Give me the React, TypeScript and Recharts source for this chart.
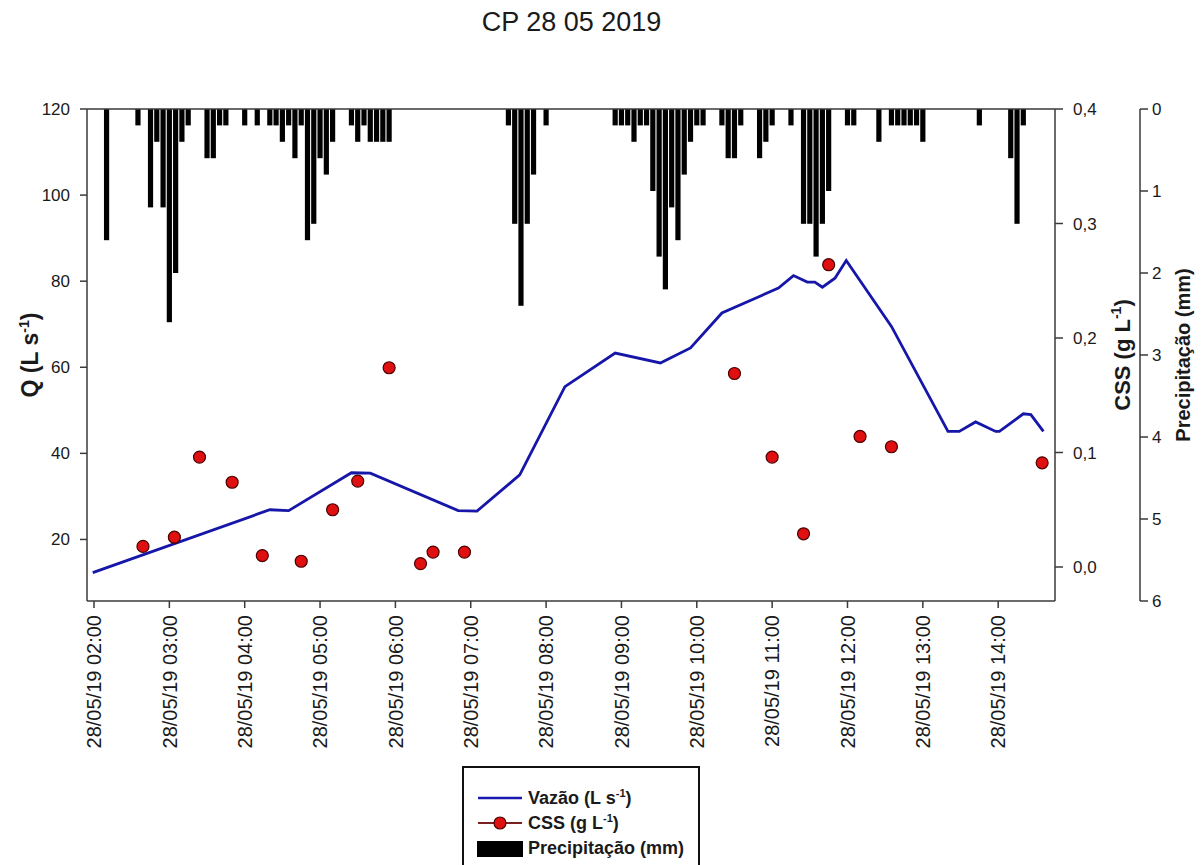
import React from "react";
import { ComposedChart, Bar, Line, Scatter, XAxis, YAxis, ReferenceLine } from "recharts";

const FONT = '"Liberation Sans", Arial, Helvetica, sans-serif';
const AXIS_COLOR = "#3a3a3a";
const TEXT_COLOR = "#1a1a1a";

const chartTitle = "CP 28 05 2019";
const dateLabel = "28/05/19";
const hourTicks = [2, 3, 4, 5, 6, 7, 8, 9, 10, 11, 12, 13, 14];
const qTicks = [20, 40, 60, 80, 100, 120];
const cssTicks = [0, 0.1, 0.2, 0.3, 0.4];
const rainTicks = [0, 1, 2, 3, 4, 5, 6];

// precipitação, intervalos de 5 min
const rainTimes = [
  "02:10", "02:35", "02:45", "02:50", "02:55", "03:00", "03:05", "03:10", "03:15", "03:30",
  "03:35", "03:40", "03:45", "04:00", "04:10", "04:20", "04:25", "04:30", "04:35", "04:40",
  "04:45", "04:50", "04:55", "05:00", "05:05", "05:10", "05:25", "05:30", "05:35", "05:40",
  "05:45", "05:50", "05:55", "07:30", "07:35", "07:40", "07:45", "07:50", "08:00", "08:55",
  "09:00", "09:05", "09:10", "09:15", "09:20", "09:25", "09:30", "09:35", "09:40", "09:45",
  "09:50", "09:55", "10:00", "10:05", "10:20", "10:25", "10:30", "10:35", "10:50", "10:55",
  "11:00", "11:15", "11:25", "11:30", "11:35", "11:40", "11:45", "12:00", "12:05", "12:25",
  "12:35", "12:40", "12:45", "12:50", "12:55", "13:00", "13:45", "14:10", "14:15", "14:20",
];
const rainMm = [
  1.6, 0.2, 1.2, 0.4, 1.2, 2.6, 2.0, 0.4, 0.2, 0.6,
  0.6, 0.2, 0.2, 0.2, 0.2, 0.2, 0.2, 0.4, 0.2, 0.6,
  0.2, 1.6, 1.4, 0.6, 0.8, 0.4, 0.2, 0.4, 0.2, 0.4,
  0.4, 0.4, 0.4, 0.2, 1.4, 2.4, 1.4, 0.8, 0.2, 0.2,
  0.2, 0.2, 0.4, 0.2, 0.2, 1.0, 1.8, 2.2, 1.2, 1.6,
  0.8, 0.4, 0.2, 0.2, 0.2, 0.6, 0.6, 0.2, 0.6, 0.4,
  0.2, 0.2, 1.4, 1.4, 1.8, 1.4, 1.0, 0.2, 0.2, 0.4,
  0.2, 0.2, 0.2, 0.2, 0.2, 0.4, 0.2, 0.6, 1.4, 0.2,
];

// vazão (L/s)
const flowTimes = [
  "01:59", "04:20", "04:35", "05:25", "05:40", "06:50", "07:05", "07:39", "08:15", "08:55",
  "09:31", "09:55", "10:20", "11:05", "11:17", "11:28", "11:34", "11:40", "11:50", "11:59",
  "12:35", "13:20", "13:29", "13:42", "13:58", "14:01", "14:20", "14:26", "14:36",
];
const flowLps = [
  12.3, 26.9, 26.7, 35.5, 35.4, 26.7, 26.6, 35.0, 55.5, 63.3,
  61.0, 64.5, 72.6, 78.4, 81.3, 79.8, 79.8, 78.6, 80.7, 84.8,
  69.5, 45.1, 45.1, 47.3, 45.1, 45.1, 49.2, 49.0, 45.1,
];

// CSS (g/L)
const cssTimes = [
  "02:39", "03:04", "03:24", "03:50", "04:14", "04:45", "05:10", "05:30", "05:55", "06:20",
  "06:30", "06:55", "10:30", "11:00", "11:25", "11:45", "12:10", "12:35", "14:35",
];
const cssGL = [
  0.018, 0.026, 0.096, 0.074, 0.010, 0.005, 0.050, 0.075, 0.174, 0.003,
  0.013, 0.013, 0.169, 0.096, 0.029, 0.264, 0.114, 0.105, 0.091,
];

const toHours = (s: string) => {
  const [h, m] = s.split(":").map(Number);
  return h + m / 60;
};

const rainData = rainTimes.map((t, i) => ({ t: toHours(t), rain: rainMm[i] }));
const flowData = flowTimes.map((t, i) => ({ t: toHours(t), q: flowLps[i] }));
const cssData = cssTimes.map((t, i) => ({ t: toHours(t), css: cssGL[i] }));

const TimeTick = (props: any) => {
  const { x, y, payload } = props;
  const ty = y + 5;
  const label = `${dateLabel} ${String(payload.value).padStart(2, "0")}:00`;
  return (
    <text
      x={x}
      y={ty}
      transform={`rotate(-90, ${x}, ${ty})`}
      textAnchor="end"
      dy="0.36em"
      fontSize={20}
      fontFamily={FONT}
      fill={TEXT_COLOR}
    >
      {label}
    </text>
  );
};

const axisTitle = (dx: number, size: number, main: string, sup?: string) => (props: any) => {
  const vb = props.viewBox || { x: 0, y: 0, width: 0, height: 0 };
  const cx = vb.x + dx;
  const cy = vb.y + vb.height / 2;
  return (
    <text
      x={cx}
      y={cy}
      transform={`rotate(-90, ${cx}, ${cy})`}
      textAnchor="middle"
      dy="0.35em"
      fontSize={size}
      fontWeight="bold"
      fontFamily={FONT}
      fill={TEXT_COLOR}
    >
      {main}
      {sup && (
        <>
          <tspan dy={-9} fontSize={Math.round(size * 0.62)}>{sup}</tspan>
          <tspan dy={9}>)</tspan>
        </>
      )}
    </text>
  );
};

// barras de 5 px centradas no instante (eixo invertido: altura pode vir negativa)
const RainBar = (props: any) => {
  const { x, y, width, height } = props;
  if (x == null || y == null || !height) return null;
  const cx = x + (width || 0) / 2;
  const top = Math.min(y, y + height);
  return <rect x={cx - 2.6} y={top} width={5.2} height={Math.abs(height)} fill="#000" />;
};

const CssDot = (props: any) => (
  <circle cx={props.cx} cy={props.cy} r={6} fill="#e01010" stroke="#4a0000" strokeWidth={1.2} />
);

const legendText: React.CSSProperties = {
  fontFamily: FONT,
  fontWeight: "bold",
  fontSize: 18,
  color: TEXT_COLOR,
  whiteSpace: "nowrap",
};

const LegendBox = () => (
  <div
    style={{
      position: "absolute",
      left: 462,
      top: 766,
      width: 238,
      height: 110,
      border: "2px solid #111",
      boxSizing: "border-box",
      background: "#fff",
    }}
  >
    <div style={{ position: "absolute", left: 12, top: 19, display: "flex", alignItems: "center" }}>
      <svg width={48} height={16}>
        <line x1={2} x2={46} y1={8} y2={8} stroke="#1a1ab0" strokeWidth={2.5} />
      </svg>
      <span style={{ ...legendText, marginLeft: 4 }}>
        Vazão (L s<sup style={{ fontSize: 11 }}>-1</sup>)
      </span>
    </div>
    <div style={{ position: "absolute", left: 12, top: 44, display: "flex", alignItems: "center" }}>
      <svg width={48} height={16}>
        <line x1={2} x2={46} y1={8} y2={8} stroke="#7a2020" strokeWidth={2} />
        <circle cx={24} cy={8} r={6} fill="#e01010" stroke="#4a0000" strokeWidth={1.2} />
      </svg>
      <span style={{ ...legendText, marginLeft: 4 }}>
        CSS (g L<sup style={{ fontSize: 11 }}>-1</sup>)
      </span>
    </div>
    <div style={{ position: "absolute", left: 12, top: 70, display: "flex", alignItems: "center" }}>
      <svg width={48} height={18}>
        <rect x={1} y={1} width={46} height={16} fill="#000" />
      </svg>
      <span style={{ ...legendText, marginLeft: 4 }}>Precipitação (mm)</span>
    </div>
  </div>
);

const App: React.FC = () => {
  const tickStyle = { fontSize: 17, fill: TEXT_COLOR, fontFamily: FONT };
  const axisLine = { stroke: AXIS_COLOR, strokeWidth: 1.5 };
  return (
    <div
      style={{
        position: "absolute",
        left: 0,
        top: 0,
        width: 1203,
        height: 865,
        background: "#fff",
        fontFamily: FONT,
        overflow: "hidden",
      }}
    >
      <div
        style={{
          position: "absolute",
          left: 0,
          width: 1143,
          top: 6,
          textAlign: "center",
          fontSize: 27,
          lineHeight: "32px",
          color: TEXT_COLOR,
        }}
      >
        {chartTitle}
      </div>
      <ComposedChart
        width={1203}
        height={865}
        data={rainData}
        margin={{ top: 109, right: 0, bottom: 104, left: 0 }}
        style={{ fontFamily: FONT }}
      >
        <XAxis
          xAxisId="time"
          dataKey="t"
          type="number"
          domain={[1.907, 14.754]}
          allowDataOverflow
          ticks={hourTicks}
          interval={0}
          height={160}
          tick={<TimeTick />}
          tickSize={7}
          tickLine={axisLine}
          axisLine={axisLine}
        />
        <YAxis
          yAxisId="q"
          orientation="left"
          type="number"
          domain={[5.7, 120]}
          allowDataOverflow
          ticks={qTicks}
          width={87}
          tick={tickStyle}
          tickSize={7}
          tickMargin={10}
          tickLine={axisLine}
          axisLine={axisLine}
          label={axisTitle(30, 23, "Q (L s", "-1")}
        />
        <YAxis
          yAxisId="css"
          orientation="right"
          type="number"
          domain={[-0.0297, 0.4]}
          allowDataOverflow
          ticks={cssTicks}
          tickFormatter={(v: number) => v.toFixed(1).replace(".", ",")}
          width={85}
          tick={tickStyle}
          tickSize={8}
          tickMargin={10}
          tickLine={axisLine}
          axisLine={axisLine}
          label={axisTitle(67, 22, "CSS (g L", "-1")}
        />
        <YAxis
          yAxisId="rain"
          orientation="right"
          type="number"
          reversed
          domain={[0, 6]}
          allowDataOverflow
          ticks={rainTicks}
          width={63}
          tick={tickStyle}
          tickSize={8}
          tickMargin={4}
          tickLine={axisLine}
          axisLine={axisLine}
          label={axisTitle(43, 20, "Precipitação (mm)")}
        />
        <Bar
          xAxisId="time"
          yAxisId="rain"
          dataKey="rain"
          fill="#000"
          shape={<RainBar />}
          isAnimationActive={false}
        />
        <ReferenceLine xAxisId="time" yAxisId="rain" y={0} stroke={AXIS_COLOR} strokeWidth={1.5} />
        <Line
          xAxisId="time"
          yAxisId="q"
          data={flowData}
          dataKey="q"
          type="linear"
          stroke="#1616a8"
          strokeWidth={2.8}
          dot={false}
          activeDot={false}
          isAnimationActive={false}
        />
        <Scatter
          xAxisId="time"
          yAxisId="css"
          data={cssData}
          dataKey="css"
          shape={<CssDot />}
          isAnimationActive={false}
        />
      </ComposedChart>
      <LegendBox />
    </div>
  );
};

export default App;
